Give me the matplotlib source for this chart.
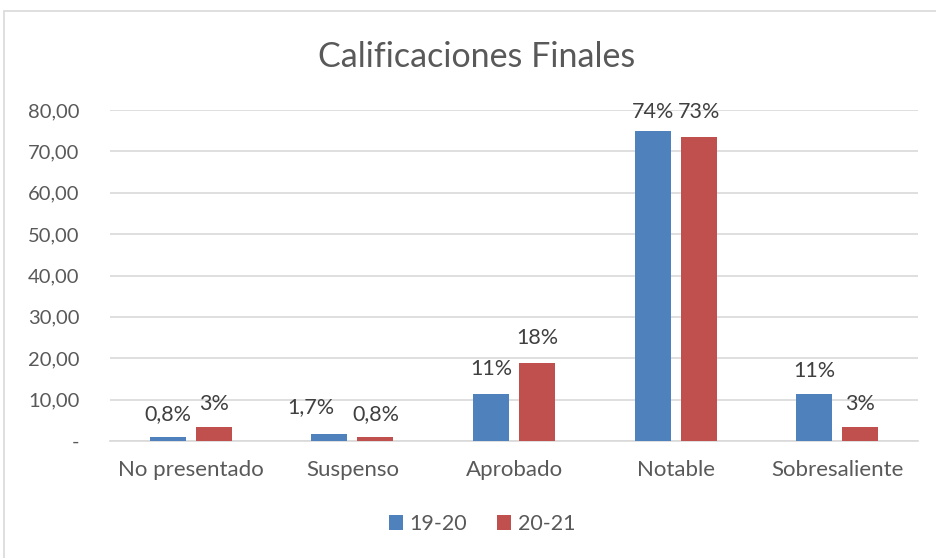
import matplotlib
matplotlib.use("Agg")
import matplotlib.pyplot as plt
import numpy as np
from matplotlib.patches import Rectangle

categories = ["No presentado", "Suspenso", "Aprobado", "Notable", "Sobresaliente"]
series_names = ["19-20", "20-21"]
values_1920 = [0.9, 1.7, 11.4, 74.9, 11.3]
values_2021 = [3.3, 0.9, 18.8, 73.4, 3.3]
labels_1920 = ["0,8%", "1,7%", "11%", "74%", "11%"]
labels_2021 = ["3%", "0,8%", "18%", "73%", "3%"]
yticks = [0, 10, 20, 30, 40, 50, 60, 70, 80]
ytick_labels = ["-", "10,00", "20,00", "30,00", "40,00", "50,00", "60,00", "70,00", "80,00"]

plt.rcParams['font.family'] = ['Lato', 'DejaVu Sans']
W, H = 936, 558
fig = plt.figure(figsize=(W/100, H/100), dpi=100)
fig.patch.set_facecolor("white")
ax = fig.add_axes([110/W, 1-441/H, 808/W, 331/H])

x = np.arange(len(categories))
bw = 0.223
gap = 0.062
blue = "#4F81BD"
red = "#C0504D"
b1 = ax.bar(x - (bw+gap)/2, values_1920, bw, color=blue, zorder=3, label=series_names[0])
b2 = ax.bar(x + (bw+gap)/2, values_2021, bw, color=red, zorder=3, label=series_names[1])

ax.set_xlim(-0.5, len(categories)-0.5)
ax.set_ylim(0, 80)
ax.set_yticks(yticks)
ax.set_yticklabels(ytick_labels)
ax.set_xticks(x)
ax.set_xticklabels(categories)
ax.tick_params(axis='both', length=0, colors="#595959")
ax.tick_params(axis='x', labelsize=16, pad=14)
ax.tick_params(axis='y', labelsize=14.5, pad=22)
for lab in ax.get_yticklabels():
    lab.set_horizontalalignment('right')
ax.yaxis.grid(True, color="#D9D9D9", linewidth=1.2, zorder=0)
for s in ["top", "right", "left"]:
    ax.spines[s].set_visible(False)
ax.spines["bottom"].set_color("#D9D9D9")
ax.spines["bottom"].set_linewidth(1.2)

offs1 = [(0, 17), (-13, 19), (0, 18), (0, 14), (0, 17)]
offs2 = [(0, 17), (0, 17), (0, 18), (0, 18), (0, 17)]
for rect, lab, off in zip(b1, labels_1920, offs1):
    ax.annotate(lab, (rect.get_x()+rect.get_width()/2, rect.get_height()), xytext=off,
                textcoords="offset points", ha="center", va="center", fontsize=15.5,
                color="#404040", annotation_clip=False)
for rect, lab, off in zip(b2, labels_2021, offs2):
    ax.annotate(lab, (rect.get_x()+rect.get_width()/2, rect.get_height()), xytext=off,
                textcoords="offset points", ha="center", va="center", fontsize=15.5,
                color="#404040", annotation_clip=False)

fig.text(477/W, 1-57/H, "Calificaciones Finales", ha="center", va="center",
         fontsize=24.5, color="#595959")

leg = fig.legend(handles=[b1, b2], loc="center", bbox_to_anchor=(482/W, 1-524/H),
                 ncol=2, frameon=False, fontsize=15.5, handlelength=0.65, handleheight=0.65,
                 handletextpad=0.3, columnspacing=1.4)
for t in leg.get_texts():
    t.set_color("#595959")

fig.patches.append(Rectangle((4/W, -0.01), (W-4)/W + 0.01, 1-11/H + 0.01, transform=fig.transFigure,
                             fill=False, edgecolor="#D9D9D9", linewidth=1.2))

fig.savefig("out.png", dpi=100, facecolor="white")
